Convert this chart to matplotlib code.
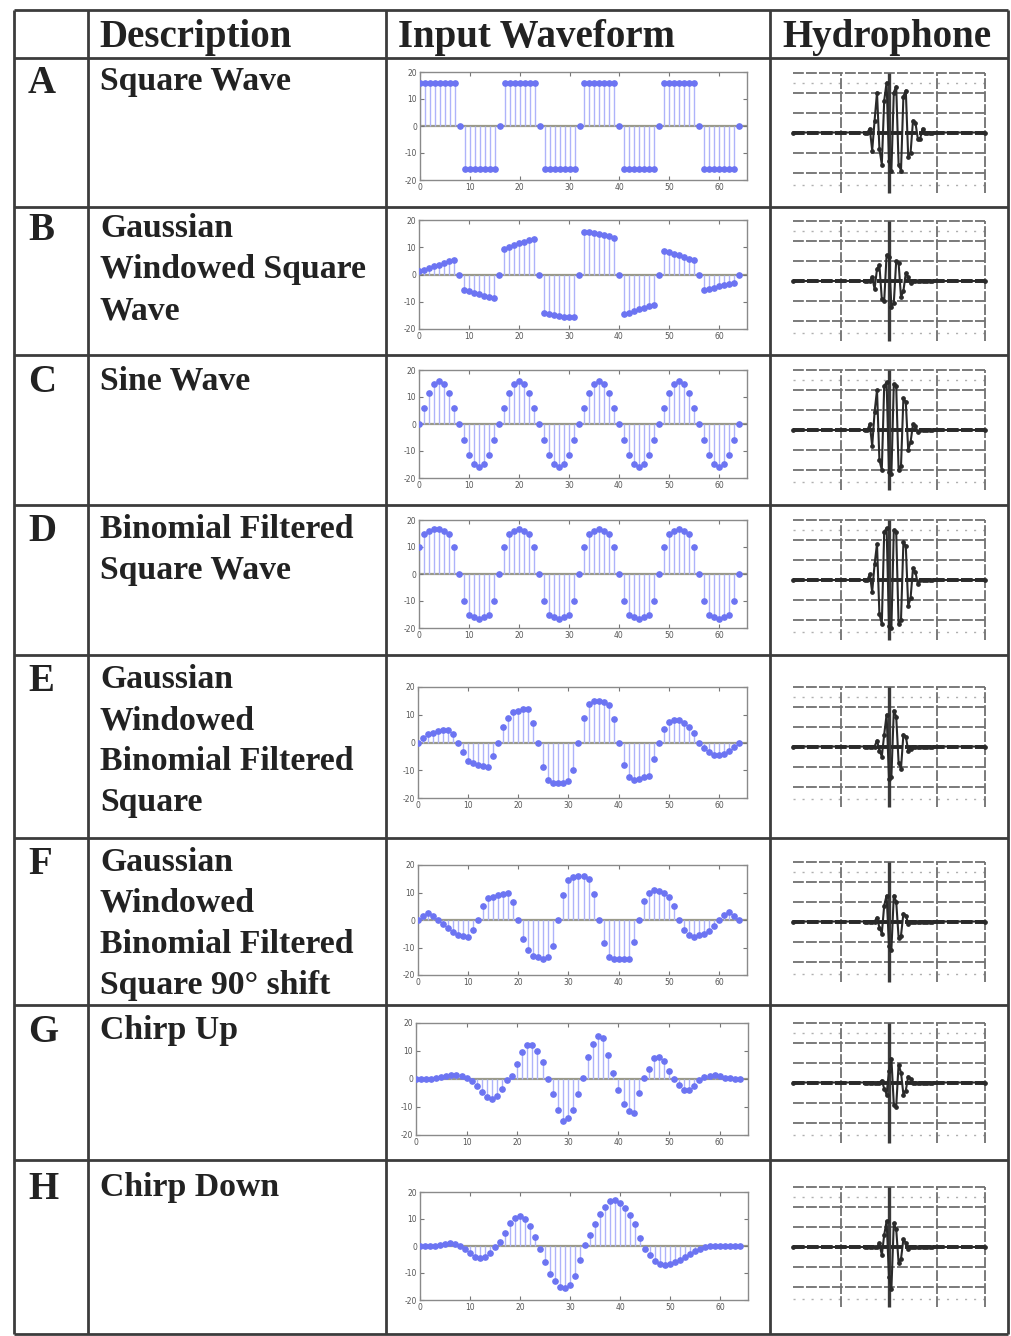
import matplotlib
matplotlib.use("Agg")
import matplotlib.pyplot as plt

W, H = 1011, 1336

# ---------------- data ----------------
ROW_LETTERS = ["A", "B", "C", "D", "E", "F", "G", "H"]
DESCRIPTIONS = [
    ["Square Wave"],
    ["Gaussian", "Windowed Square", "Wave"],
    ["Sine Wave"],
    ["Binomial Filtered", "Square Wave"],
    ["Gaussian", "Windowed", "Binomial Filtered", "Square"],
    ["Gaussian", "Windowed", "Binomial Filtered", "Square 90\u00b0 shift"],
    ["Chirp Up"],
    ["Chirp Down"],
]
HEADERS = ["Description", "Input Waveform", "Hydrophone"]

SAMPLE_INDEX = list(range(65))
X_TICKS = [0, 10, 20, 30, 40, 50, 60]
Y_TICKS = [-20, -10, 0, 10, 20]
Y_TICK_LABELS = ["-20", "-10", "0", "10", "20"]

wave_A = [16, 16, 16, 16, 16, 16, 16, 16, 0, -16, -16, -16, -16, -16, -16, -16,
          0, 16, 16, 16, 16, 16, 16, 16, 0, -16, -16, -16, -16, -16, -16, -16,
          0, 16, 16, 16, 16, 16, 16, 16, 0, -16, -16, -16, -16, -16, -16, -16,
          0, 16, 16, 16, 16, 16, 16, 16, 0, -16, -16, -16, -16, -16, -16, -16,
          0]
wave_B = [1.2, 1.8, 2.4, 3.0, 3.6, 4.2, 4.8, 5.2, 0, -5.6, -6.2, -6.8, -7.3, -7.8, -8.3, -8.8,
          0, 9.4, 10.1, 10.8, 11.4, 12.0, 12.5, 12.9, 0, -14.2, -14.6, -15.0, -15.3, -15.5, -15.6, -15.6,
          0, 15.7, 15.5, 15.2, 14.9, 14.5, 14.0, 13.4, 0, -14.5, -14.0, -13.4, -12.8, -12.2, -11.7, -11.2,
          0, 8.8, 8.2, 7.6, 7.0, 6.4, 5.8, 5.2, 0, -5.8, -5.3, -4.9, -4.4, -4.0, -3.5, -3.0,
          0]
wave_C = [0, 6.1, 11.3, 14.8, 16, 14.8, 11.3, 6.1, 0, -6.1, -11.3, -14.8, -16, -14.8, -11.3, -6.1,
          0, 6.1, 11.3, 14.8, 16, 14.8, 11.3, 6.1, 0, -6.1, -11.3, -14.8, -16, -14.8, -11.3, -6.1,
          0, 6.1, 11.3, 14.8, 16, 14.8, 11.3, 6.1, 0, -6.1, -11.3, -14.8, -16, -14.8, -11.3, -6.1,
          0, 6.1, 11.3, 14.8, 16, 14.8, 11.3, 6.1, 0, -6.1, -11.3, -14.8, -16, -14.8, -11.3, -6.1,
          0]
wave_D = [10, 15, 16, 16.5, 16.5, 16, 15, 10, 0, -10, -15, -16, -16.5, -16, -15, -10,
          0, 10, 15, 16, 16.5, 16, 15, 10, 0, -10, -15, -16, -16.5, -16, -15, -10,
          0, 10, 15, 16, 16.5, 16, 15, 10, 0, -10, -15, -16, -16.5, -16, -15, -10,
          0, 10, 15, 16, 16.5, 16, 15, 10, 0, -10, -15, -16, -16.5, -16, -15, -10,
          0]
wave_E = [0, 1.5, 3, 3.5, 4, 4.5, 4.5, 3, 0, -3.5, -6.5, -7.5, -8, -8.5, -9, -5,
          0, 5.5, 9, 11, 11.5, 12, 12, 7, 0, -9, -13.5, -14.5, -14.5, -14.5, -14, -10,
          0, 9, 14, 15, 15, 14.5, 13.5, 8.5, 0, -8, -12.5, -13.5, -13, -12.5, -12, -6,
          0, 5, 7.5, 8, 8, 7, 5.5, 3.5, 0, -2, -3.5, -4.5, -4.5, -4, -3, -1.5,
          0]
wave_F = [0, 1.5, 2.5, 1.5, 0, -1.5, -3, -4.5, -5.5, -5.8, -6, -3.5, 0, 5, 8, 8.5,
          9, 9.5, 10, 6.5, 0, -7, -11, -13, -13.5, -14, -13.5, -9.5, 0, 9, 14.5, 15.5,
          16, 16, 15, 9.5, 0, -8.5, -13.5, -14, -14, -14, -14, -8, 0, 7, 10, 11,
          10.5, 10, 8.5, 5, 0, -3.5, -5.5, -6, -5.5, -5, -4, -2, 0, 2, 3, 1.5,
          0]
wave_G = [0, 0, 0, 0, 0.3, 0.8, 1.2, 1.5, 1.5, 1.2, 0.5, -0.8, -2.5, -4.5, -6.5, -7,
          -6, -3.5, -0.5, 1, 5.5, 9.5, 12, 12, 10, 6, 0, -5.5, -11, -15, -14, -11,
          -5.5, 0.5, 8, 12.5, 15.5, 14.5, 8.5, 2, -4, -9, -11.5, -12, -5, 0.5, 3.5, 7.5,
          8, 6.5, 3, 0, -2, -4, -4, -2.5, -0.5, 0.8, 1.2, 1.5, 1, 0.5, 0.2, 0,
          0]
wave_H = [0, 0, 0, 0, 0.3, 0.8, 1.2, 0.8, 0, -1, -2.5, -4, -4.5, -4, -2.5, -0.5,
          1.5, 5, 8.5, 10.5, 11, 10, 7.5, 3.5, -1, -6, -10.5, -13, -15, -15.5, -14.5, -11,
          -5, 0.5, 4, 8, 12, 14.5, 16.5, 17, 16, 14, 11.5, 8, 3, -1, -3.5, -5.5,
          -6.5, -7, -6.5, -6, -5, -4, -3, -2, -1, -0.3, 0, 0, 0, 0, 0, 0,
          0]
WAVES = [wave_A, wave_B, wave_C, wave_D, wave_E, wave_F, wave_G, wave_H]

# hydrophone traces: burst samples on a common time grid, baseline zero elsewhere
HYD_T = [-2.0, -0.50, -0.45, -0.40, -0.35, -0.30, -0.25, -0.20, -0.15, -0.10, -0.05,
         0.00, 0.05, 0.10, 0.15, 0.20, 0.25, 0.30, 0.35, 0.40, 0.45,
         0.50, 0.55, 0.60, 0.65, 0.70, 0.75, 0.80, 0.85, 0.90, 2.0]
hyd_A = [0, 0, 0, 0.2, -0.9, 0.6, 2.0, -0.8, -1.6, 1.6, 2.5, -1.4, -1.9, 2.0, 2.3, -1.6,
         -1.9, 1.8, 2.1, -1.2, -1.0, 0.6, 0.5, -0.3, -0.3, 0.2, 0, 0, 0, 0, 0]
hyd_B = [0, 0, 0, 0, 0.2, -0.4, 0.6, 0.8, -0.9, -1.0, 1.3, 1.2, -1.3, -1.1, 1.0, 0.9,
         -0.8, -0.5, 0.4, 0.2, -0.1, 0, 0, 0, 0, 0, 0, 0, 0, 0, 0]
hyd_C = [0, 0, 0, 0.3, -0.8, 0.9, 2.0, -1.5, -2.0, 2.2, 2.4, -2.1, -2.2, 2.3, 2.2, -2.0,
         -1.8, 1.6, 1.4, -1.0, -0.6, 0.3, 0.2, -0.1, 0, 0, 0, 0, 0, 0, 0]
hyd_D = [0, 0, 0, 0.3, -0.6, 0.8, 1.8, -1.7, -2.2, 2.4, 2.6, -2.3, -2.4, 2.5, 2.4, -2.2,
         -2.0, 1.9, 1.7, -1.3, -0.9, 0.6, 0.4, -0.2, 0, 0, 0, 0, 0, 0, 0]
hyd_E = [0, 0, 0, 0, 0, 0, 0.3, -0.2, -0.5, 0.6, 1.6, -1.6, -1.5, 1.8, 1.5, -0.8,
         -1.1, 0.6, 0.5, -0.2, -0.1, 0, 0, 0, 0, 0, 0, 0, 0, 0, 0]
hyd_F = [0, 0, 0, 0, 0, 0, 0.2, -0.3, -0.6, 0.8, 1.3, -1.2, -1.4, 1.3, 1.0, -0.8,
         -0.7, 0.4, 0.3, -0.1, 0, 0, 0, 0, 0, 0, 0, 0, 0, 0, 0]
hyd_G = [0, 0, 0, 0, 0, 0, 0, 0, 0.1, -0.3, -0.6, 0.6, 1.2, -1.1, -1.2, 0.9,
         0.5, -0.6, -0.4, 0.3, 0.2, 0, 0, 0, 0, 0, 0, 0, 0, 0, 0]
hyd_H = [0, 0, 0, 0, 0, 0, 0, 0.2, -0.4, 0.6, 1.3, -1.5, -2.1, 1.2, 0.9, -0.8,
         -0.6, 0.4, 0.2, -0.1, 0, 0, 0, 0, 0, 0, 0, 0, 0, 0, 0]
HYDS = [hyd_A, hyd_B, hyd_C, hyd_D, hyd_E, hyd_F, hyd_G, hyd_H]
HYD_HGRID = [-2, -1, 1, 2, 3]
HYD_VGRID = [-1, 1, 2]

# ---------------- layout (pixels) ----------------
ROW_EDGES = [58, 207, 355, 505, 655, 838, 1005, 1160, 1334]
COL_EDGES = [14, 88, 386, 770, 1008]
TOP = 10
FIRST_BASELINES = [90, 237, 389, 538, 688, 871, 1039, 1196]
LINE_STEP = 41
WAVE_RECTS = [(420, 72, 747, 180), (419, 220, 747, 329), (419, 370, 747, 478),
              (419, 520, 747, 628), (418, 687, 747, 798), (418, 865, 747, 975),
              (416, 1023, 748, 1135), (420, 1192, 748, 1300)]

SERIF = ["Liberation Serif", "DejaVu Serif"]
TEXT_COLOR = "#222222"
LINE_COLOR = "#3c3c3c"

fig = plt.figure(figsize=(W / 100, H / 100), dpi=100)
fig.patch.set_facecolor("white")

bg = fig.add_axes([0, 0, 1, 1])
bg.set_xlim(0, W)
bg.set_ylim(H, 0)
bg.axis("off")

# table grid
bg.hlines([TOP] + ROW_EDGES, COL_EDGES[0], COL_EDGES[-1], color=LINE_COLOR, lw=2.0)
bg.vlines(COL_EDGES, TOP, ROW_EDGES[-1], color=LINE_COLOR, lw=2.0)

# header
hx = [99, 398, 782]
for x, s in zip(hx, HEADERS):
    bg.text(x, 47, s, fontsize=28, fontweight="bold", family=SERIF,
            color=TEXT_COLOR, va="baseline", ha="left")

# row labels + descriptions
for i, (letter, lines) in enumerate(zip(ROW_LETTERS, DESCRIPTIONS)):
    b0 = FIRST_BASELINES[i]
    bg.text(28, b0 + 3, letter, fontsize=28, fontweight="bold", family=SERIF,
            color=TEXT_COLOR, va="baseline", ha="left")
    for k, line in enumerate(lines):
        bg.text(100, b0 + k * LINE_STEP, line, fontsize=24.3, fontweight="bold",
                family=SERIF, color=TEXT_COLOR, va="baseline", ha="left")


def rect(l, t, r, b):
    return [l / W, 1 - b / H, (r - l) / W, (b - t) / H]


# input waveform panels (stem plots)
for i, vals in enumerate(WAVES):
    ax = fig.add_axes(rect(*WAVE_RECTS[i]))
    ax.vlines(SAMPLE_INDEX, 0, vals, color="#aeb3fa", lw=1.0, zorder=2)
    ax.axhline(0, color="#9a9a8a", lw=1.6, zorder=1)
    ax.plot(SAMPLE_INDEX, vals, linestyle="none", marker="o", ms=3.8,
            mfc="#6c74f2", mec="#6c74f2", zorder=3)
    ax.set_xlim(0, 65.6)
    ax.set_ylim(-20, 20)
    ax.set_xticks(X_TICKS)
    ax.set_xticklabels([str(t) for t in X_TICKS])
    ax.set_yticks(Y_TICKS)
    ax.set_yticklabels(Y_TICK_LABELS)
    ax.tick_params(direction="in", length=3, width=0.8, color="#777777",
                   labelsize=5.5, labelcolor="#555555", top=True, right=True, pad=2)
    for sp in ax.spines.values():
        sp.set_color("#8a8a8a")
        sp.set_linewidth(1.0)

# hydrophone panels
for i, vals in enumerate(HYDS):
    cy = (ROW_EDGES[i] + ROW_EDGES[i + 1]) / 2
    ax = fig.add_axes(rect(889 - 2.1 * 48, cy - 70, 889 + 2.1 * 48, cy + 70))
    ax.set_xlim(-2.1, 2.1)
    ax.set_ylim(-3.5, 3.5)
    ax.axis("off")
    ax.hlines(HYD_HGRID, -2, 2, color="#707070", lw=1.3, linestyles=(0, (6, 1.2)))
    ax.hlines([2.5, -2.6], -2, 2, color="#b0b0b0", lw=1.0, linestyles=(0, (1.5, 5)))
    ax.vlines(HYD_VGRID, -3, 3, color="#707070", lw=1.3, linestyles=(0, (6, 1.2)))
    ax.vlines([0], -3, 3, color="#3a3a3a", lw=2.4)
    ax.hlines([0], -2, 2, color="#262626", lw=2.8, linestyles=(0, (3, 0.6)))
    ax.plot(HYD_T, vals, color="#2a2a2a", lw=1.5, marker="o", ms=2.4,
            solid_joinstyle="round")

fig.savefig("out.png", dpi=100, facecolor="white")
